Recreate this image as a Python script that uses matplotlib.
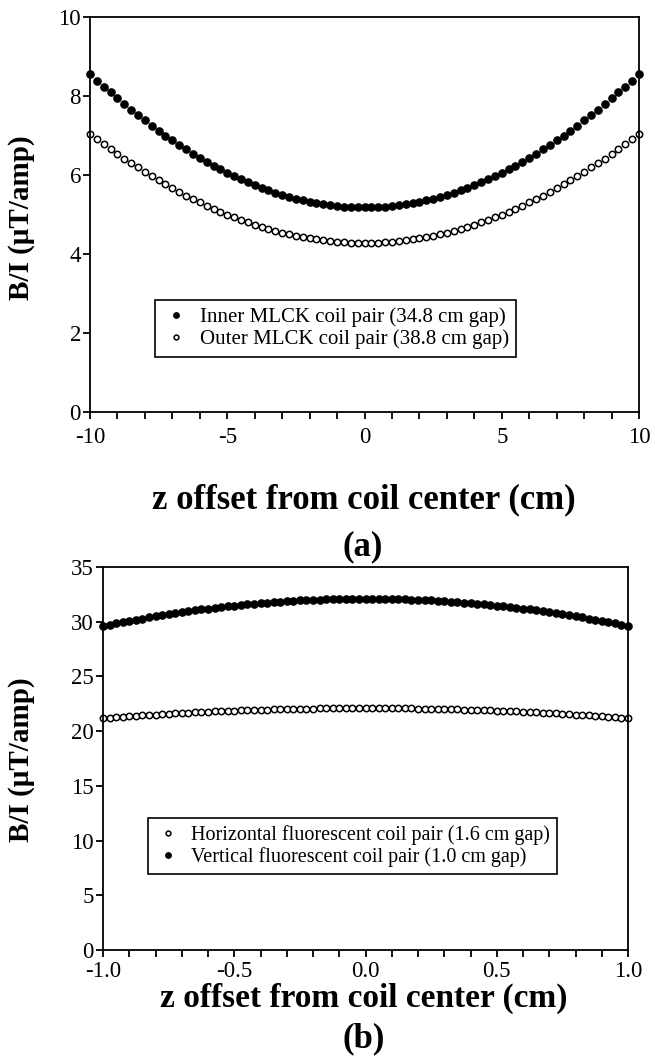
import numpy as np
import matplotlib
matplotlib.use("Agg")
import matplotlib.pyplot as plt
from matplotlib.ticker import MultipleLocator

plt.rcParams['font.family'] = ['Liberation Serif', 'DejaVu Serif']

# ---------------- data: panel (a) ----------------
z_a = np.arange(-10.0, 10.001, 0.25)
inner_mlck = [8.55, 8.39, 8.24, 8.09, 7.94, 7.79, 7.65, 7.52, 7.38, 7.25,
              7.12, 7.00, 6.88, 6.76, 6.65, 6.54, 6.44, 6.34, 6.24, 6.15,
              6.06, 5.97, 5.89, 5.82, 5.75, 5.68, 5.61, 5.55, 5.50, 5.45,
              5.40, 5.36, 5.32, 5.29, 5.26, 5.24, 5.22, 5.20, 5.19, 5.18,
              5.18,
              5.18, 5.19, 5.20, 5.22, 5.24, 5.26, 5.29, 5.32, 5.36, 5.40,
              5.45, 5.50, 5.55, 5.61, 5.68, 5.75, 5.82, 5.89, 5.97, 6.06,
              6.15, 6.24, 6.34, 6.44, 6.54, 6.65, 6.76, 6.88, 7.00, 7.12,
              7.25, 7.38, 7.52, 7.65, 7.79, 7.94, 8.09, 8.24, 8.39, 8.55]
outer_mlck = [7.03, 6.90, 6.78, 6.65, 6.53, 6.41, 6.30, 6.19, 6.08, 5.97,
              5.87, 5.76, 5.67, 5.57, 5.48, 5.39, 5.31, 5.22, 5.15, 5.07,
              5.00, 4.93, 4.86, 4.80, 4.74, 4.69, 4.63, 4.59, 4.54, 4.50,
              4.46, 4.43, 4.40, 4.37, 4.35, 4.33, 4.31, 4.30, 4.29, 4.28,
              4.28,
              4.28, 4.29, 4.30, 4.31, 4.33, 4.35, 4.37, 4.40, 4.43, 4.46,
              4.50, 4.54, 4.59, 4.63, 4.69, 4.74, 4.80, 4.86, 4.93, 5.00,
              5.07, 5.15, 5.22, 5.31, 5.39, 5.48, 5.57, 5.67, 5.76, 5.87,
              5.97, 6.08, 6.19, 6.30, 6.41, 6.53, 6.65, 6.78, 6.90, 7.03]
labels_a = ["Inner MLCK coil pair (34.8 cm gap)",
            "Outer MLCK coil pair (38.8 cm gap)"]
xticks_a = [-10, -5, 0, 5, 10]
yticks_a = [0, 2, 4, 6, 8, 10]

# ---------------- data: panel (b) ----------------
z_b = np.arange(-1.0, 1.0001, 0.025)
horiz_fluor = [21.20, 21.24, 21.29, 21.33, 21.37, 21.41, 21.45, 21.49, 21.52, 21.56,
               21.59, 21.63, 21.66, 21.69, 21.72, 21.75, 21.78, 21.80, 21.83, 21.85,
               21.88, 21.90, 21.92, 21.94, 21.96, 21.97, 21.99, 22.00, 22.02, 22.03,
               22.04, 22.05, 22.06, 22.07, 22.08, 22.09, 22.09, 22.09, 22.10, 22.10,
               22.10,
               22.10, 22.10, 22.09, 22.09, 22.09, 22.08, 22.07, 22.06, 22.05, 22.04,
               22.03, 22.02, 22.00, 21.99, 21.97, 21.96, 21.94, 21.92, 21.90, 21.88,
               21.85, 21.83, 21.80, 21.78, 21.75, 21.72, 21.69, 21.66, 21.63, 21.59,
               21.56, 21.52, 21.49, 21.45, 21.41, 21.37, 21.33, 21.29, 21.24, 21.20]
vert_fluor = [29.60, 29.72, 29.84, 29.96, 30.08, 30.19, 30.29, 30.40, 30.50, 30.60,
              30.69, 30.79, 30.88, 30.96, 31.04, 31.12, 31.20, 31.27, 31.34, 31.41,
              31.48, 31.54, 31.59, 31.65, 31.70, 31.75, 31.79, 31.84, 31.88, 31.91,
              31.94, 31.97, 32.00, 32.02, 32.04, 32.06, 32.08, 32.09, 32.09, 32.10,
              32.10,
              32.10, 32.09, 32.09, 32.08, 32.06, 32.04, 32.02, 32.00, 31.97, 31.94,
              31.91, 31.88, 31.84, 31.79, 31.75, 31.70, 31.65, 31.59, 31.54, 31.48,
              31.41, 31.34, 31.27, 31.20, 31.12, 31.04, 30.96, 30.88, 30.79, 30.69,
              30.60, 30.50, 30.40, 30.29, 30.19, 30.08, 29.96, 29.84, 29.72, 29.60]
labels_b = ["Horizontal fluorescent coil pair (1.6 cm gap)",
            "Vertical fluorescent coil pair (1.0 cm gap)"]
xticks_b = [-1.0, -0.5, 0.0, 0.5, 1.0]
xticklabels_b = ["-1.0", "-0.5", "0.0", "0.5", "1.0"]
yticks_b = [0, 5, 10, 15, 20, 25, 30, 35]

xlabel = "z offset from coil center (cm)"
ylabel = "B/I (\u03bcT/amp)"

# ---------------- figure ----------------
fig = plt.figure(figsize=(6.55, 10.64), dpi=100)
W, H = 655, 1064

def axes_px(l, t, r, b):
    return fig.add_axes([l / W, 1 - b / H, (r - l) / W, (b - t) / H])

def ftext(x, y, s, **kw):
    return fig.text(x / W, 1 - y / H, s, ha='center', va='center', **kw)

ax1 = axes_px(90, 17, 639, 412)
ax2 = axes_px(103, 567, 628, 950)

filled = dict(marker='o', linestyle='none', markersize=5.2,
              markerfacecolor='black', markeredgecolor='black', clip_on=False)
hollow = dict(marker='o', linestyle='none', markersize=4.6, markeredgewidth=1.1,
              markerfacecolor='white', markeredgecolor='black', clip_on=False)

ax1.plot(z_a, inner_mlck, label=labels_a[0], **filled)
ax1.plot(z_a, outer_mlck, label=labels_a[1], **hollow)
ax1.set_xlim(-10, 10)
ax1.set_ylim(0, 10)
ax1.set_xticks(xticks_a)
ax1.set_xticklabels([str(t) for t in xticks_a])
ax1.xaxis.set_minor_locator(MultipleLocator(1))
ax1.set_yticks(yticks_a)

ax2.plot(z_b, horiz_fluor, label=labels_b[0], **hollow)
ax2.plot(z_b, vert_fluor, label=labels_b[1], **filled)
ax2.set_xlim(-1, 1)
ax2.set_ylim(0, 35)
ax2.set_xticks(xticks_b)
ax2.set_xticklabels(xticklabels_b)
ax2.xaxis.set_minor_locator(MultipleLocator(0.1))
ax2.set_yticks(yticks_b)

for ax in (ax1, ax2):
    for sp in ax.spines.values():
        sp.set_linewidth(1.3)
    ax.tick_params(axis='both', which='major', direction='out', length=5,
                   width=1.3, labelsize=16.5, pad=1.5)
    ax.tick_params(axis='x', which='minor', direction='out', length=5, width=1.3)
ax1.tick_params(axis='x', which='major', pad=6)
ax2.tick_params(axis='x', which='major', pad=3)

ftext(22, 218, ylabel, rotation=90, fontsize=21, fontweight='bold')
ftext(22, 760, ylabel, rotation=90, fontsize=21, fontweight='bold')
ftext(364, 500, xlabel, fontsize=25, fontweight='bold')
ftext(364, 998, xlabel, fontsize=24, fontweight='bold')
ftext(363, 547, "(a)", fontsize=25, fontweight='bold')
ftext(364, 1039, "(b)", fontsize=25, fontweight='bold')

leg_kw = dict(frameon=True, fancybox=False, edgecolor='black',
              framealpha=1, markerscale=0.75, handletextpad=0.5,
              borderpad=0.35, labelspacing=0.12, handlelength=1.3,
              borderaxespad=0)
l1 = ax1.legend(loc='upper left', bbox_to_anchor=(65 / 549, 112 / 395),
                fontsize=15, **leg_kw)
l2 = ax2.legend(loc='upper left', bbox_to_anchor=(45 / 525, 132 / 383),
                fontsize=14.5, **leg_kw)
for lg in (l1, l2):
    lg.get_frame().set_linewidth(1.2)

fig.savefig("out.png", dpi=100)
